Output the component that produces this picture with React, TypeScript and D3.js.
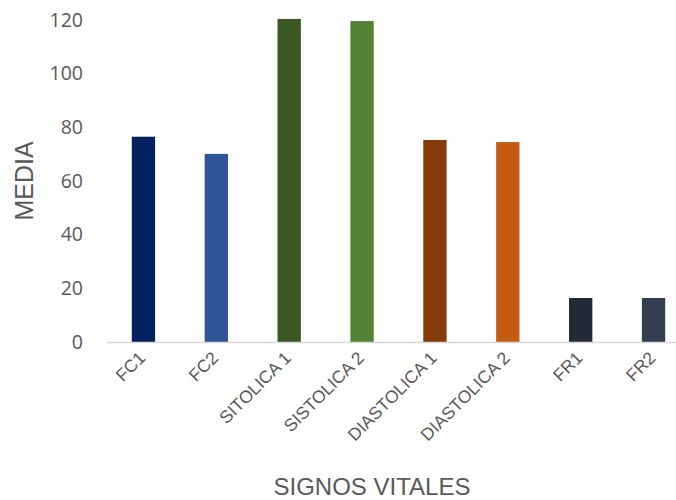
import React from "react";
import * as d3 from "d3";

const categories = ["FC1", "FC2", "SITOLICA 1", "SISTOLICA 2", "DIASTOLICA 1", "DIASTOLICA 2", "FR1", "FR2"];
const values = [76.5, 70.1, 120.4, 119.6, 75.3, 74.5, 16.4, 16.4];
const colors = ["#03215E", "#2F5597", "#3A5724", "#548235", "#843C0C", "#C55A11", "#222A35", "#333F50"];
const yTicks = [0, 20, 40, 60, 80, 100, 120];
const yTitle = "MEDIA";
const xTitle = "SIGNOS VITALES";

const W = 676;
const H = 500;

export default function App() {
  const x = d3.scaleBand<string>().domain(categories).range([107, 690]).paddingInner(0.68).paddingOuter(0.34);
  const y = d3.scaleLinear().domain([0, 120]).range([342, 20]);
  const textColor = "#595959";
  return (
    <svg width={W} height={H} style={{ position: "absolute", left: 0, top: 0, background: "#fff" }}>
      {yTicks.map((t) => (
        <text key={t} x={83} y={y(t)} dy="0.35em" textAnchor="end" fontFamily="'Open Sans', sans-serif" fontSize={19.5} fill={textColor}>
          {t}
        </text>
      ))}
      {categories.map((c, i) => (
        <rect key={c} x={x(c)} y={y(values[i])} width={x.bandwidth()} height={y(0) - y(values[i])} fill={colors[i]} />
      ))}
      <line x1={107} x2={W} y1={y(0) + 0.5} y2={y(0) + 0.5} stroke="#D9D9D9" strokeWidth={1.5} />
      {categories.map((c) => {
        const cx = (x(c) as number) + x.bandwidth() / 2 + 3;
        const cy = 359;
        return (
          <text key={c} transform={`translate(${cx},${cy}) rotate(-45)`} textAnchor="end" fontFamily="'Liberation Sans', Arial, sans-serif" fontSize={17.5} fill={textColor}>
            {c}
          </text>
        );
      })}
      <text transform={`translate(33,181) rotate(-90)`} textAnchor="middle" fontFamily="'Liberation Sans', Arial, sans-serif" fontSize={25} fill={textColor}>
        {yTitle}
      </text>
      <text x={372} y={495} textAnchor="middle" fontFamily="'Liberation Sans', Arial, sans-serif" fontSize={24} fill={textColor}>
        {xTitle}
      </text>
    </svg>
  );
}
